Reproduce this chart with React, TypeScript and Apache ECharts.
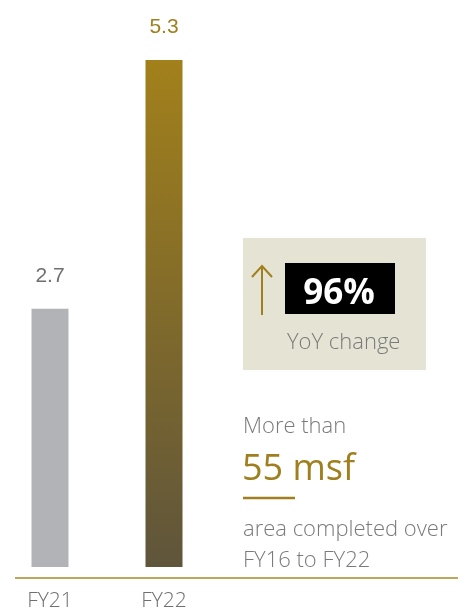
import React, { useEffect, useRef } from "react";
import * as echarts from "echarts";

const categories = ["FY21", "FY22"];
const values = [2.7, 5.3];
const yoyChange = "96%";
const areaText = "55 msf";

const GOLD = "#a07f1e";
const GRAY_TEXT = "#7a7a7a";
const FONT = "Open Sans";

export default function App() {
  const ref = useRef<HTMLDivElement>(null);
  useEffect(() => {
    if (!ref.current) return;
    const chart = echarts.init(ref.current, null, { renderer: "svg" });
    const barColors = [
      "#b1b3b6",
      new echarts.graphic.LinearGradient(0, 0, 0, 1, [
        { offset: 0, color: "#a2801b" },
        { offset: 1, color: "#5f553b" },
      ]),
    ];
    const labelColors = ["#6f6f6f", GOLD];
    chart.setOption({
      animation: false,
      grid: { left: 50, width: 114, top: 60, bottom: 47 },
      xAxis: {
        type: "category",
        data: categories,
        boundaryGap: false,
        axisLine: { show: false },
        axisTick: { show: false },
        axisLabel: {
          margin: 21,
          fontSize: 21,
          color: "#6f6f6f",
          fontFamily: FONT,
          fontWeight: 300,
        },
      },
      yAxis: {
        type: "value",
        min: 0,
        max: 5.3,
        show: false,
        splitLine: { show: false },
      },
      series: [
        {
          type: "bar",
          barWidth: 37,
          data: values.map((v, i) => ({
            value: v,
            itemStyle: { color: barColors[i] },
            label: { color: labelColors[i] },
          })),
          label: {
            show: true,
            position: "top",
            distance: 24,
            fontSize: 21,
            fontFamily: "Liberation Sans",
            formatter: (p: any) => p.value.toFixed(1),
          },
        },
      ],
      graphic: [
        {
          type: "line",
          shape: { x1: 15, y1: 578, x2: 458, y2: 578 },
          style: { stroke: "#a8892a", lineWidth: 1.5 },
        },
        {
          type: "rect",
          shape: { x: 243, y: 238, width: 183, height: 132 },
          style: { fill: "#e5e3d3" },
        },
        {
          type: "line",
          shape: { x1: 262, y1: 266, x2: 262, y2: 315 },
          style: { stroke: GOLD, lineWidth: 2 },
        },
        {
          type: "polyline",
          shape: { points: [[252, 277], [262, 266], [272, 277]] },
          style: { stroke: GOLD, lineWidth: 2, fill: "none" },
        },
        {
          type: "rect",
          shape: { x: 285, y: 263, width: 110, height: 51 },
          style: { fill: "#000000" },
        },
        {
          type: "text",
          x: 339,
          y: 290,
          style: {
            text: yoyChange,
            fill: "#ffffff",
            fontSize: 35,
            fontWeight: "bold",
            fontFamily: FONT,
            textAlign: "center",
            textVerticalAlign: "middle",
          },
        },
        {
          type: "text",
          x: 287,
          y: 340,
          style: {
            text: "YoY change",
            fill: GRAY_TEXT,
            fontSize: 22,
            fontFamily: FONT,
            fontWeight: 300,
            textVerticalAlign: "middle",
          },
        },
        {
          type: "text",
          x: 243,
          y: 424,
          style: {
            text: "More than",
            fill: GRAY_TEXT,
            fontSize: 22,
            fontFamily: FONT,
            fontWeight: 300,
            textVerticalAlign: "middle",
          },
        },
        {
          type: "text",
          x: 242,
          y: 466,
          style: {
            text: areaText,
            fill: GOLD,
            fontSize: 36,
            fontFamily: FONT,
            fontWeight: 400,
            textVerticalAlign: "middle",
          },
        },
        {
          type: "line",
          shape: { x1: 243, y1: 498, x2: 295, y2: 498 },
          style: { stroke: GOLD, lineWidth: 2.5 },
        },
        {
          type: "text",
          x: 243,
          y: 527,
          style: {
            text: "area completed over",
            fill: GRAY_TEXT,
            fontSize: 22,
            fontFamily: FONT,
            fontWeight: 300,
            textVerticalAlign: "middle",
          },
        },
        {
          type: "text",
          x: 243,
          y: 558,
          style: {
            text: "FY16 to FY22",
            fill: GRAY_TEXT,
            fontSize: 22,
            fontFamily: FONT,
            fontWeight: 300,
            textVerticalAlign: "middle",
          },
        },
      ],
    });
    return () => chart.dispose();
  }, []);
  return (
    <div
      ref={ref}
      style={{ position: "fixed", left: 0, top: 0, width: 458, height: 614 }}
    />
  );
}
